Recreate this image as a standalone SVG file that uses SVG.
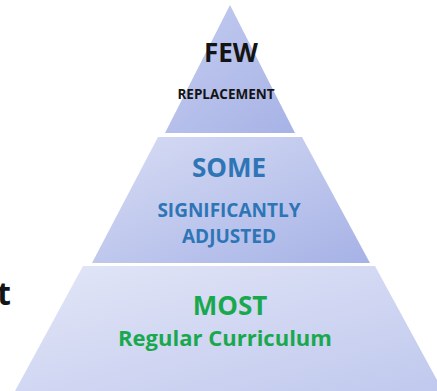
<svg xmlns="http://www.w3.org/2000/svg" width="437" height="391" viewBox="0 0 437 391">
<style>
.t{font-family:"Open Sans","Liberation Sans",sans-serif;font-weight:bold;text-anchor:middle}
.k{fill:#141414}
.b{fill:#2e75b6}
.g{fill:#1aa84f}
</style>
<defs>
<linearGradient id="g1" x1="0" y1="0" x2="1" y2="1">
<stop offset="0" stop-color="#c4ccef"/>
<stop offset="1" stop-color="#a7b3e6"/>
</linearGradient>
<linearGradient id="g2" x1="0" y1="0" x2="1" y2="1">
<stop offset="0" stop-color="#d8ddf4"/>
<stop offset="1" stop-color="#a6b2e6"/>
</linearGradient>
<linearGradient id="g3" x1="0" y1="0" x2="1" y2="1">
<stop offset="0" stop-color="#e3e6f7"/>
<stop offset="1" stop-color="#c0c9ee"/>
</linearGradient>
</defs>
<rect width="437" height="391" fill="#ffffff"/>
<text class="t k" x="11" y="305" style="text-anchor:end" font-size="32">t</text>
<g id="tier-top">
<polygon points="230,5 295,133 165,133" fill="url(#g1)"/>
<text class="t k" x="231" y="62" font-size="26">FEW</text>
<text class="t k" x="226" y="99" font-size="13.5">REPLACEMENT</text>
</g>
<g id="tier-middle">
<polygon points="158,137 302,137 370,263 92,263" fill="url(#g2)"/>
<text class="t b" x="229" y="177" font-size="26">SOME</text>
<text class="t b" x="229" y="217" font-size="19">SIGNIFICANTLY</text>
<text class="t b" x="229" y="243" font-size="19">ADJUSTED</text>
</g>
<g id="tier-bottom">
<polygon points="83,266 375,266 443,391 15,391" fill="url(#g3)"/>
<text class="t g" x="230" y="315" font-size="26">MOST</text>
<text class="t g" x="225" y="346" font-size="22">Regular Curriculum</text>
</g>
</svg>
